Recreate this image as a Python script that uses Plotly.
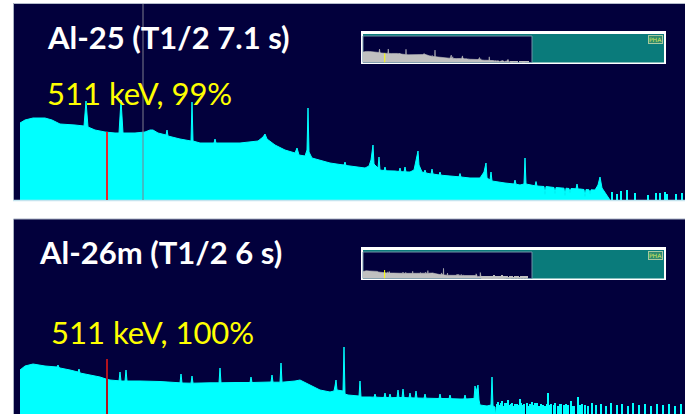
import plotly.graph_objects as go

# ---------------------------------------------------------------- data
# Gamma spectra, channel vs counts (arbitrary linear units).
# Al-25 spectrum: continuum with photopeaks
al25_channel = [
    0, 20, 52, 100, 128, 160, 220, 256, 264, 272, 300, 340, 380, 396, 404, 412,
    460, 500, 520, 532, 552, 584, 588, 592, 640, 672, 684, 688, 692, 720, 776,
    780, 784, 880, 952, 972, 980, 988, 1020, 1060, 1100, 1108, 1116, 1140, 1148,
    1152, 1156, 1168, 1200, 1240, 1280, 1296, 1300, 1304, 1320, 1380, 1396, 1404,
    1412, 1416, 1432, 1436, 1440, 1456, 1460, 1464, 1500, 1516, 1520, 1524, 1536,
    1540, 1544, 1560, 1576, 1584, 1592, 1596, 1608, 1616, 1620, 1624, 1644, 1648,
    1652, 1676, 1680, 1684, 1720, 1756, 1760, 1764, 1800, 1840, 1856, 1864, 1868,
    1880, 1884, 1888, 1940, 1976, 1980, 1984, 2000, 2016, 2020, 2024, 2060, 2064,
    2068, 2080, 2096, 2100, 2104, 2136, 2140, 2144, 2160, 2176, 2180, 2184, 2196,
    2200, 2204, 2224, 2228, 2232, 2240, 2256, 2260, 2264, 2276, 2280, 2284, 2300,
    2312, 2320, 2328, 2340, 2352, 2360,
]
al25_counts = [
    770, 800, 820, 820, 800, 760, 750, 740, 990, 730, 700, 680, 670, 670, 1000, 670,
    670, 680, 700, 700, 670, 650, 700, 640, 610, 590, 590, 980, 590, 570, 570,
    610, 570, 570, 590, 630, 660, 610, 550, 500, 470, 520, 450, 440, 500,
    920, 480, 420, 400, 370, 355, 350, 380, 345, 340, 320, 340, 400,
    550, 360, 320, 430, 300, 295, 330, 292, 290, 285, 320, 283, 282,
    330, 281, 280, 300, 380, 490, 350, 280, 275, 300, 270, 260, 310,
    260, 250, 280, 248, 240, 232, 265, 230, 220, 220, 280, 370, 220,
    200, 280, 190, 170, 160, 200, 158, 150, 160, 420, 160, 142, 185,
    140, 140, 135, 50, 135, 125, 60, 125, 120, 118, 40, 118, 115,
    70, 115, 112, 160, 110, 110, 105, 30, 105, 102, 60, 102, 100,
    150, 230, 120, 70, 20, 0,
]
# Al-25: isolated counts in the high-energy tail
al25_tail_channel = [2368, 2388, 2404, 2428, 2460, 2512, 2544, 2560, 2580, 2588, 2624, 2648]
al25_tail_counts = [80, 60, 90, 100, 70, 50, 70, 70, 80, 60, 60, 70]

# Al-26m spectrum
al26m_channel = [
    0, 20, 52, 100, 148, 152, 156, 160, 200, 232, 236, 240, 280, 320, 344, 360,
    396, 400, 404, 420, 424, 428, 480, 520, 560, 640, 644, 648, 684, 688, 692,
    760, 796, 800, 804, 860, 920, 924, 928, 1004, 1008, 1012, 1040, 1044, 1048,
    1100, 1120, 1160, 1200, 1240, 1256, 1260, 1264, 1268, 1292, 1296, 1300, 1312,
    1340, 1356, 1360, 1364, 1400, 1416, 1420, 1424, 1456, 1460, 1464, 1476, 1480,
    1484, 1508, 1512, 1516, 1528, 1532, 1536, 1556, 1560, 1564, 1580, 1584, 1588,
    1616, 1620, 1624, 1640, 1676, 1680, 1684, 1700, 1716, 1720, 1724, 1760, 1776,
    1780, 1784, 1816, 1820, 1824, 1832, 1836, 1840, 1868, 1884, 1888, 1892, 1900,
    1904,
]
al26m_counts = [
    500, 540, 560, 540, 530, 550, 525, 520, 500, 480, 510, 470, 450, 430, 410, 400,
    392, 480, 390, 390, 500, 390, 390, 390, 385, 372, 460, 370, 368, 440, 368,
    372, 372, 520, 372, 375, 375, 430, 375, 380, 450, 378, 378, 570, 378,
    390, 400, 350, 300, 280, 290, 340, 400, 300, 290, 730, 260, 250,
    240, 240, 390, 230, 230, 228, 260, 228, 225, 270, 225, 224, 260,
    223, 225, 300, 225, 225, 310, 225, 222, 270, 222, 220, 290, 220,
    218, 260, 218, 215, 215, 260, 215, 215, 214, 250, 213, 210, 210,
    250, 210, 215, 340, 280, 350, 200, 150, 140, 150, 430, 140, 130,
    0,
]
# Al-26m: sparse counts in the high-energy tail
al26m_tail_channel = [
    1908, 1912, 1920, 1924, 1928, 1936, 1940, 1948, 1952, 1956, 1964, 1968, 1976,
    1980, 1988, 1996, 2000, 2004, 2012, 2016, 2028, 2032, 2040, 2048, 2052, 2060,
    2068, 2076, 2084, 2092, 2100, 2108, 2112, 2120, 2124, 2136, 2140, 2152, 2160,
    2164, 2176, 2184, 2192, 2204, 2212, 2216, 2232, 2240, 2248, 2260, 2272, 2288,
    2304, 2324, 2344, 2364, 2388, 2408, 2432, 2452, 2476, 2500, 2524, 2548, 2572,
    2596, 2620, 2644,
]
al26m_tail_counts = [
    160, 180, 150, 170, 190, 140, 175, 170, 200, 150, 165, 175, 140,
    160, 165, 150, 210, 170, 150, 165, 170, 140, 160, 180, 150, 170,
    175, 140, 165, 150, 140, 160, 270, 150, 160, 150, 175, 140, 160,
    165, 150, 160, 150, 190, 140, 145, 230, 150, 160, 150, 140, 175,
    150, 165, 140, 170, 150, 160, 140, 170, 150, 160, 140, 165, 150,
    160, 145, 165,
]

marker_channel = 348      # 511 keV annihilation line
cursor_channel = 492      # spectrum cursor
marker_height_al25 = 680
marker_height_al26m = 610

titles = ["Al-25 (T1/2 7.1 s)", "Al-26m (T1/2 6 s)"]
labels = ["511 keV, 99%", "511 keV, 100%"]

# ---------------------------------------------------------------- styling
W, H = 685, 414
NAVY = "#02003c"
CYAN = "#00ffff"
GREY = "#c0c0c0"
TEAL = "#0a7b7b"


def fx(x):
    return x / W


def fy(y):
    return 1 - y / H


fig = go.Figure()

# main spectra
for ch, ct, tch, tct, xa, ya in [
    (al25_channel, al25_counts, al25_tail_channel, al25_tail_counts, "x", "y"),
    (al26m_channel, al26m_counts, al26m_tail_channel, al26m_tail_counts, "x2", "y2"),
]:
    fig.add_trace(go.Scatter(x=ch, y=ct, mode="lines", fill="tozeroy",
                             fillcolor=CYAN, line=dict(color=CYAN, width=1),
                             xaxis=xa, yaxis=ya, hoverinfo="skip"))
    fig.add_trace(go.Bar(x=tch, y=tct, width=4, marker=dict(color=CYAN, line=dict(width=0)),
                         xaxis=xa, yaxis=ya, hoverinfo="skip"))

# overview spectra
for ch, ct, tch, tct, xa, ya in [
    (al25_channel, al25_counts, al25_tail_channel, al25_tail_counts, "x3", "y3"),
    (al26m_channel, al26m_counts, al26m_tail_channel, al26m_tail_counts, "x4", "y4"),
]:
    fig.add_trace(go.Scatter(x=ch, y=ct, mode="lines", fill="tozeroy",
                             fillcolor=GREY, line=dict(color=GREY, width=0.6),
                             xaxis=xa, yaxis=ya, hoverinfo="skip"))
    fig.add_trace(go.Bar(x=tch, y=tct, width=12, marker=dict(color=GREY, line=dict(width=0)),
                         xaxis=xa, yaxis=ya, hoverinfo="skip"))

shapes = []


def rect(x0, y0, x1, y1, fill, line_color=None, lw=0, layer="below"):
    shapes.append(dict(type="rect", xref="paper", yref="paper",
                       x0=fx(x0), x1=fx(x1), y0=fy(y1), y1=fy(y0),
                       fillcolor=fill, layer=layer,
                       line=dict(color=line_color or fill, width=lw)))


def pline(x0, y0, x1, y1, color, lw=1):
    shapes.append(dict(type="line", xref="paper", yref="paper",
                       x0=fx(x0), x1=fx(x1), y0=fy(y0), y1=fy(y1),
                       line=dict(color=color, width=lw), layer="above"))


# panel backgrounds
rect(13, 3.5, 686, 200.5, NAVY)
rect(13, 219, 686, 415, NAVY)
# overview windows
for top in (31, 247):
    rect(361, top, 666, top + 33, "#ffffff")
    rect(363, top + 3, 664, top + 31.5, TEAL)
    rect(363, top + 5, 532, top + 31.5, NAVY, "#6f93a6", 1)

# panel borders
pline(13.5, 3.5, 13.5, 200.5, "#a8b0c2")
pline(13.5, 3.5, 685, 3.5, "#b4bccb")
pline(13, 200.5, 685, 200.5, "#c4e4ee", 1.5)
pline(13.5, 219, 13.5, 414, "#a8b0c2")
pline(13.5, 219, 685, 219, "#a8b0c2")

# markers
shapes.append(dict(type="line", xref="x", yref="paper", x0=cursor_channel, x1=cursor_channel,
                   y0=fy(200), y1=fy(4), line=dict(color="#7c7c8c", width=1), layer="above"))
shapes.append(dict(type="line", xref="x", yref="y", x0=marker_channel, x1=marker_channel,
                   y0=0, y1=marker_height_al25, line=dict(color="#e8232b", width=2), layer="above"))
shapes.append(dict(type="line", xref="x2", yref="y2", x0=marker_channel, x1=marker_channel,
                   y0=0, y1=marker_height_al26m, line=dict(color="#b3121d", width=2), layer="above"))
shapes.append(dict(type="line", xref="x3", yref="y3", x0=marker_channel, x1=marker_channel,
                   y0=0, y1=marker_height_al25, line=dict(color="#ffff00", width=1), layer="above"))
shapes.append(dict(type="line", xref="x4", yref="y4", x0=marker_channel, x1=marker_channel,
                   y0=0, y1=marker_height_al26m, line=dict(color="#ffff00", width=1), layer="above"))

annotations = []
for text, x, y in [(titles[0], 45, 37), (titles[1], 37, 252)]:
    annotations.append(dict(text=text, xref="paper", yref="paper", x=fx(x), y=fy(y),
                            xanchor="left", yanchor="middle", showarrow=False,
                            font=dict(family="Lato", size=31, color="#ffffff", weight="bold")))
for text, x, y in [(labels[0], 45, 93), (labels[1], 49, 332)]:
    annotations.append(dict(text=text, xref="paper", yref="paper", x=fx(x), y=fy(y),
                            xanchor="left", yanchor="middle", showarrow=False,
                            font=dict(family="Lato", size=31, color="#ffff00")))
for y in (39.5, 255.5):
    annotations.append(dict(text="PHA", xref="paper", yref="paper", x=fx(655), y=fy(y),
                            xanchor="center", yanchor="middle", showarrow=False,
                            bgcolor="#2f8a6e", bordercolor="#a9c9a0", borderwidth=1, borderpad=0,
                            font=dict(family="DejaVu Sans", size=6, color="#d6e85a")))

ax = dict(visible=False, fixedrange=True)
fig.update_layout(
    width=W, height=H, margin=dict(l=0, r=0, t=0, b=0),
    paper_bgcolor="#ffffff", plot_bgcolor="rgba(0,0,0,0)",
    showlegend=False, barmode="overlay", bargap=0,
    xaxis=dict(ax, domain=[fx(13), 1], range=[-28, 2660], anchor="y"),
    yaxis=dict(ax, domain=[fy(200), fy(4)], range=[0, 1960], anchor="x"),
    xaxis2=dict(ax, domain=[fx(13), 1], range=[-28, 2660], anchor="y2"),
    yaxis2=dict(ax, domain=[0, fy(219)], range=[60, 2010], anchor="x2"),
    xaxis3=dict(ax, domain=[fx(363), fx(532)], range=[0, 2704], anchor="y3"),
    yaxis3=dict(ax, domain=[fy(62.5), fy(36)], range=[0, 1960], anchor="x3"),
    xaxis4=dict(ax, domain=[fx(363), fx(531)], range=[0, 2704], anchor="y4"),
    yaxis4=dict(ax, domain=[fy(278.5), fy(252)], range=[0, 1900], anchor="x4"),
    shapes=shapes, annotations=annotations,
)

fig.write_html("out.html")
